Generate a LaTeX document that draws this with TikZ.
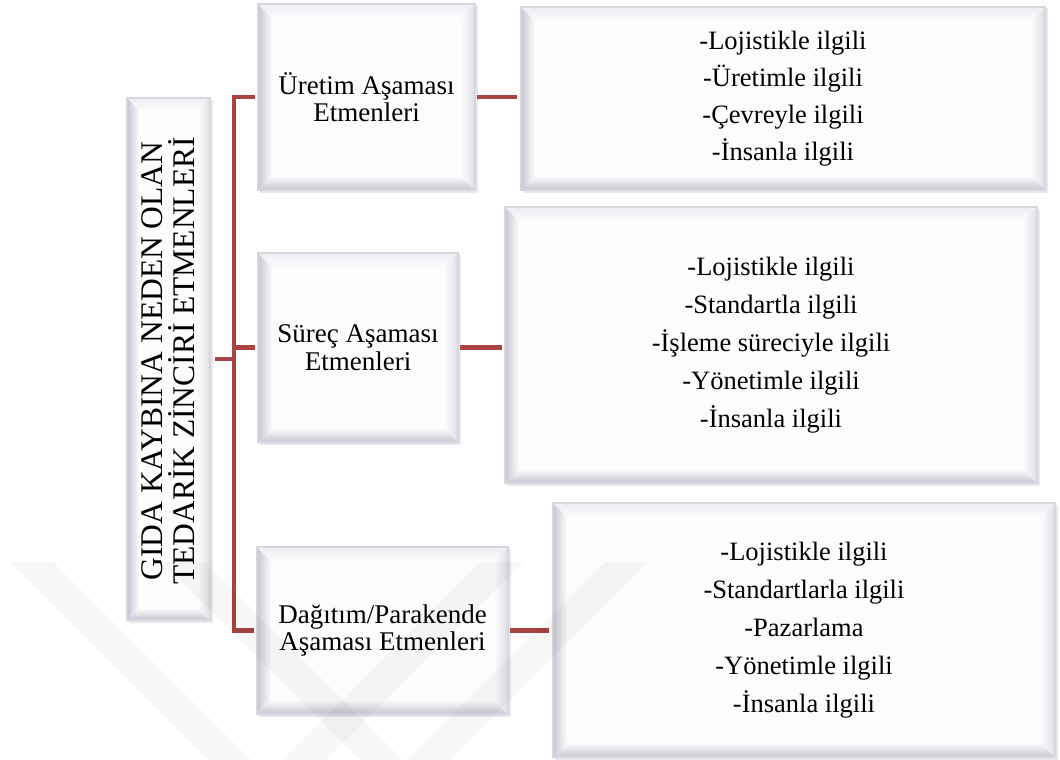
\documentclass[tikz,border=0pt]{standalone}
\usepackage{fontspec}
\setmainfont{Liberation Serif}

\definecolor{boxfill}{RGB}{252,252,253}
\definecolor{bevdark}{RGB}{198,198,210}
\definecolor{bevmid}{RGB}{222,222,230}
\definecolor{bevlight}{RGB}{238,238,243}
\definecolor{edgegray}{RGB}{214,214,220}
\definecolor{shadowgray}{RGB}{232,232,236}
\definecolor{linkred}{RGB}{169,68,66}

% bevelled box: name, x1, y1, x2, y2 (pixel-like units, y downwards)
\newcommand\bevbox[5]{%
  \fill[shadowgray] (#2+1.5,#3+1.5) rectangle (#4+2.5,#5+2.5);
  \fill[boxfill] (#2,#3) rectangle (#4,#5);
  \shade[left color=bevdark,right color=boxfill]
    (#2,#3) -- (#2+\bev,#3+\bev) -- (#2+\bev,#5-\bev) -- (#2,#5) -- cycle;
  \shade[top color=boxfill,bottom color=bevdark]
    (#2,#5) -- (#2+\bev,#5-\bev) -- (#4-\bev,#5-\bev) -- (#4,#5) -- cycle;
  \shade[top color=bevlight,bottom color=boxfill]
    (#2,#3) -- (#4,#3) -- (#4-\bev,#3+\bev) -- (#2+\bev,#3+\bev) -- cycle;
  \shade[left color=boxfill,right color=bevmid]
    (#4,#3) -- (#4,#5) -- (#4-\bev,#5-\bev) -- (#4-\bev,#3+\bev) -- cycle;
  \draw[edgegray, line width=1.2pt] (#2,#3) rectangle (#4,#5);
  \pgfmathsetmacro\bvw{#4-#2}\pgfmathsetmacro\bvh{#5-#3}%
  \node[boxbase, minimum width=\bvw pt, minimum height=\bvh pt]
    (#1) at ({(#2+#4)/2},{(#3+#5)/2}) {};
}

\begin{document}
\begin{tikzpicture}[x=1pt,y=-1pt,
  boxbase/.style={inner sep=0pt, outer sep=0pt, draw=none},
  conn/.style={draw=linkred, line width=4.5pt},
  titletext/.style={rotate=90, align=center, inner sep=0pt,
    font=\fontsize{31.5}{32}\selectfont},
  lbl/.style={align=center, inner sep=0pt, font=\fontsize{27}{27.5}\selectfont},
  lst/.style={align=center, inner sep=0pt, font=\fontsize{26.5}{38}\selectfont},
  chevron/.style={fill=black, fill opacity=0.03, draw=none}
]
\useasboundingbox[fill=white] (0,0) rectangle (1060,760);

% boxes
\def\bev{12}
\bevbox{M}{127}{98}{210}{620}
\def\bev{14}
\bevbox{U}{258}{4}{475}{190}
\bevbox{S}{258}{253}{458}{442}
\bevbox{D}{257}{547}{508}{714}
\bevbox{R1}{521}{7}{1045}{190}
\bevbox{R2}{505}{207}{1037}{483}
\bevbox{R3}{553}{503}{1055}{757}

% texts
\node[titletext] (Mt) at (168.5,361) {GIDA KAYBINA NEDEN OLAN\\TEDARİK ZİNCİRİ ETMENLERİ};
\node[lbl] (Ut) at (U) {Üretim Aşaması\\Etmenleri};
\node[lbl] (St) at (S) {Süreç Aşaması\\Etmenleri};
\node[lbl] (Dt) at (D) {Dağıtım/Parakende\\Aşaması Etmenleri};
\node[lst, font=\fontsize{26.5}{37}\selectfont] (R1t) at (R1)
  {-Lojistikle ilgili\\-Üretimle ilgili\\-Çevreyle ilgili\\-İnsanla ilgili};
\node[lst] (R2t) at (R2)
  {-Lojistikle ilgili\\-Standartla ilgili\\-İşleme süreciyle ilgili\\-Yönetimle ilgili\\-İnsanla ilgili};
\node[lst] (R3t) at (R3)
  {-Lojistikle ilgili\\-Standartlarla ilgili\\-Pazarlama\\-Yönetimle ilgili\\-İnsanla ilgili};

% connectors
\coordinate (bus) at (234,0);
\draw[conn, shorten <=3pt, shorten >=3pt] (U.west) -- (U.west -| bus) -- (D.west -| bus) -- (D.west);
\draw[conn, shorten >=3pt] (S.west -| bus) -- (S.west);
\draw[conn, shorten <=5pt] (M.east) -- (M.east -| bus);
\draw[conn, shorten <=1.5pt, shorten >=4pt] (U.east) -- (U.east -| R1.west);
\draw[conn, shorten <=2pt, shorten >=3pt] (S.east) -- (S.east -| R2.west);
\draw[conn, shorten <=1.5pt, shorten >=4pt] (D.east) -- (D.east -| R3.west);

% faint chevron mark in the lower left
\fill[chevron] (10,562) -- (53,562) -- (251,760) -- (208,760) -- cycle;
\fill[chevron] (480,562) -- (523,562) -- (325,760) -- (282,760) -- cycle;
\fill[chevron] (162,562) -- (205,562) -- (403,760) -- (360,760) -- cycle;
\fill[chevron] (605,562) -- (647,562) -- (449,760) -- (407,760) -- cycle;
\end{tikzpicture}
\end{document}
